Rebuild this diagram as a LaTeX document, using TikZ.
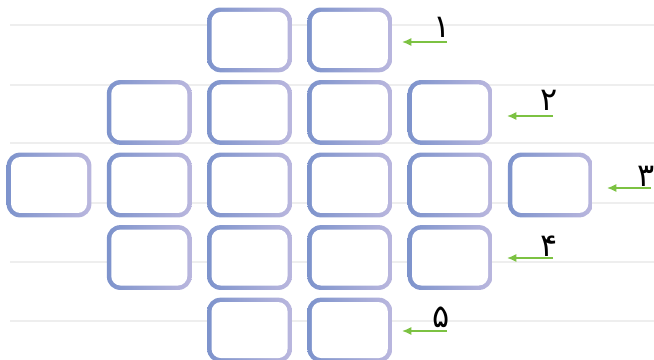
\documentclass[tikz,border=0pt]{standalone}
\usepackage{fontspec}
\TeXXeTstate=1
\newfontfamily\arabicfont[Script=Arabic]{DejaVu Sans}
\usetikzlibrary{arrows.meta,positioning}
\definecolor{boxL}{HTML}{7D93CC}
\definecolor{boxR}{HTML}{BAB7DE}
\definecolor{linegray}{HTML}{EEEEEE}
\definecolor{arrgreen}{HTML}{7CC242}

\begin{document}
\begin{tikzpicture}[x=0.75pt, y=0.75pt,
        node distance=5.4pt and 11.2pt,
        cell/.style={minimum width=63.6pt, minimum height=48.6pt, inner sep=0pt, rounded corners=10pt,
            left color=boxL, right color=boxR,
            path picture={\fill[white, rounded corners=7pt]
                ([shift={(3.3pt,3.3pt)}]path picture bounding box.south west) rectangle
                ([shift={(-3.3pt,-3.3pt)}]path picture bounding box.north east);}},
        rowline/.style={linegray, line width=2.2pt},
        arr/.style={-{Latex[length=7pt,width=6pt]}, arrgreen, line width=1.1pt},
        num/.style={font=\arabicfont\fontsize{24}{24}\selectfont, inner sep=0pt},
    ]
        \useasboundingbox (0,0) rectangle (654,360);
        % background rules
        \draw[rowline] (10,335) -- (654,335);
        \draw[rowline] (10,275) -- (654,275);
        \draw[rowline] (10,217) -- (654,217);
        \draw[rowline] (10,157) -- (654,157);
        \draw[rowline] (10,98) -- (654,98);
        \draw[rowline] (10,39) -- (654,39);

        % row 3
        \node[cell] (b31) at (49,175) {};
        \node[cell, right=of b31] (b32) {};
        \node[cell, right=of b32] (b33) {};
        \node[cell, right=of b33] (b34) {};
        \node[cell, right=of b34] (b35) {};
        \node[cell, right=of b35] (b36) {};
        % row 2
        \node[cell, above=of b32] (b22) {};
        \node[cell, above=of b33] (b23) {};
        \node[cell, above=of b34] (b24) {};
        \node[cell, above=of b35] (b25) {};
        % row 1
        \node[cell, above=of b23] (b13) {};
        \node[cell, above=of b24] (b14) {};
        % row 4
        \node[cell, below=of b32] (b42) {};
        \node[cell, below=of b33] (b43) {};
        \node[cell, below=of b34] (b44) {};
        \node[cell, below=of b35] (b45) {};
        % row 5
        \node[cell, below=of b43] (b53) {};
        \node[cell, below=of b44] (b54) {};

        % row numbers
        \node[num] (n1) at (442,333) {\beginR ۱\endR};
        \node[num] (n2) at (549,260) {\beginR ۲\endR};
        \node[num] (n3) at (646,184) {\beginR ۳\endR};
        \node[num] (n4) at (549,114) {\beginR ۴\endR};
        \node[num] (n5) at (441,43) {\beginR ۵\endR};

        \coordinate (a1s) at (447,318);
        \coordinate (a1e) at (402,318);
        \coordinate (a2s) at (553,244);
        \coordinate (a2e) at (507,244);
        \coordinate (a3s) at (651,172);
        \coordinate (a3e) at (607,172);
        \coordinate (a4s) at (553,102);
        \coordinate (a4e) at (507,102);
        \coordinate (a5s) at (447,29);
        \coordinate (a5e) at (402,29);
        \draw[arr] (a1s) -- (a1e);
        \draw[arr] (a2s) -- (a2e);
        \draw[arr] (a3s) -- (a3e);
        \draw[arr] (a4s) -- (a4e);
        \draw[arr] (a5s) -- (a5e);
    \end{tikzpicture}
\end{document}
